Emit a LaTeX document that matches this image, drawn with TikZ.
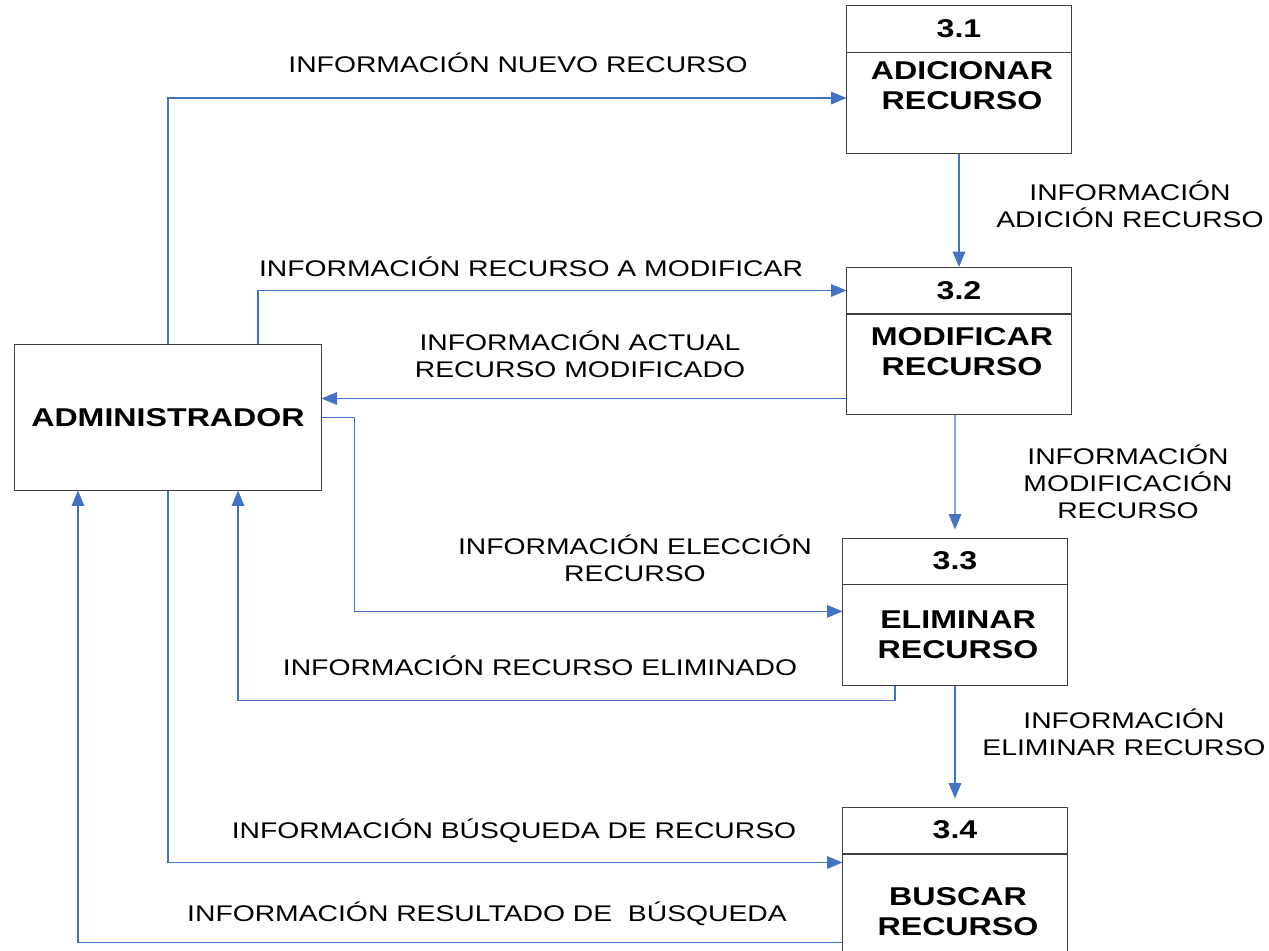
\documentclass[tikz,border=0pt]{standalone}
\usepackage{fontspec}
\setmainfont{Liberation Sans}[FakeStretch=1.25]
\usepackage{xcolor}
\usepackage{tikz}
\usetikzlibrary{arrows.meta, positioning}

\definecolor{flowblue}{HTML}{4472C4}
\definecolor{boxgray}{HTML}{3F3F3F}

\begin{document}
\begin{tikzpicture}[
    x=0.025cm, y=-0.025cm,
    header/.style={rectangle, draw=boxgray, line width=0.7pt, minimum width=5.6cm, minimum height=1.15cm, inner sep=0pt, font=\fontsize{18.3}{21.3}\selectfont\bfseries},
    body/.style={rectangle, draw=boxgray, line width=0.7pt, minimum width=5.6cm, minimum height=2.5cm, inner sep=0pt},
    boxtext/.style={align=center, inner sep=0pt, font=\fontsize{18.3}{21.3}\selectfont\bfseries},
    entity/.style={rectangle, draw=boxgray, line width=0.7pt, minimum width=7.65cm, minimum height=3.625cm, inner sep=0pt, font=\fontsize{18.3}{21.3}\selectfont\bfseries},
    flowlabel/.style={align=center, inner sep=0pt, font=\fontsize{16.1}{19.2}\selectfont},
    arrow/.style={-{Triangle[length=11pt, width=9pt]}, draw=flowblue, line width=0.8pt}
]

\fill [white] (0,0) rectangle (1269,951);
\useasboundingbox (0,0) rectangle (1269,951);

% processes
\node (p31h) [header] at (959,29) {3.1};
\node (p31) [body, below=0pt of p31h] {};
\node (p31t) [boxtext] at (962,86) {ADICIONAR\\RECURSO};

\node (p32h) [header] at (959,290.5) {3.2};
\node (p32) [body, below=0pt of p32h] {};
\node (p32t) [boxtext] at (962,352) {MODIFICAR\\RECURSO};

\node (p33h) [header] at (955,561) {3.3};
\node (p33) [body, below=0pt of p33h] {};
\node (p33t) [boxtext] at (958,635) {ELIMINAR\\RECURSO};

\node (p34h) [header] at (955,830) {3.4};
\node (p34) [body, below=0pt of p34h] {};
\node (p34t) [boxtext] at (958,912) {BUSCAR\\RECURSO};

% external entity
\node (adm) [entity] at (168,417.5) {ADMINISTRADOR};

% labels
\node (lnuevo) [flowlabel] at (518,63) {INFORMACIÓN NUEVO RECURSO};
\node (ladicion) [flowlabel] at (1130,204.5) {INFORMACIÓN\\ADICIÓN RECURSO};
\node (lamodif) [flowlabel] at (531,267) {INFORMACIÓN RECURSO A MODIFICAR};
\node (lactual) [flowlabel] at (580,354.5) {INFORMACIÓN ACTUAL\\RECURSO MODIFICADO};
\node (lmodif) [flowlabel] at (1128,482) {INFORMACIÓN\\MODIFICACIÓN\\RECURSO};
\node (leleccion) [flowlabel] at (635,558.5) {INFORMACIÓN ELECCIÓN\\RECURSO};
\node (leliminado) [flowlabel] at (540,666) {INFORMACIÓN RECURSO ELIMINADO};
\node (leliminar) [flowlabel] at (1124,732.5) {INFORMACIÓN\\ELIMINAR RECURSO};
\node (lbusqueda) [flowlabel] at (514,831) {INFORMACIÓN BÚSQUEDA DE RECURSO};
\node (lresultado) [flowlabel] at (487,914) {INFORMACIÓN RESULTADO DE~ BÚSQUEDA};

% flows
\draw [arrow] (adm.north) |- ([yshift=0.125cm]p31.west);
\draw [arrow] (p31.south) -- (p32h.north);
\draw [arrow] ([xshift=2.25cm]adm.north) |- (p32h.west);
\draw [arrow] ([yshift=-0.85cm]p32.west) coordinate (a) -- (a -| adm.east);
\draw [arrow] (adm.east) -- ++(33,0) |- ([yshift=0.59cm]p33.west);
\draw [arrow, shorten >=0.2cm] ([xshift=-0.1cm]p32.south) -- (p33h.north);
\draw [arrow] ([xshift=-1.5cm]p33.south) -- ++(0,15) -| ([xshift=1.75cm]adm.south);
\draw [arrow, shorten >=0.2cm] (p33.south) -- (p34h.north);
\draw [arrow] (adm.south) |- ([yshift=-0.225cm]p34.north west);
\draw [arrow] ([yshift=-2.225cm]p34.north west) -| ([xshift=-2.25cm]adm.south);

\end{tikzpicture}
\end{document}
